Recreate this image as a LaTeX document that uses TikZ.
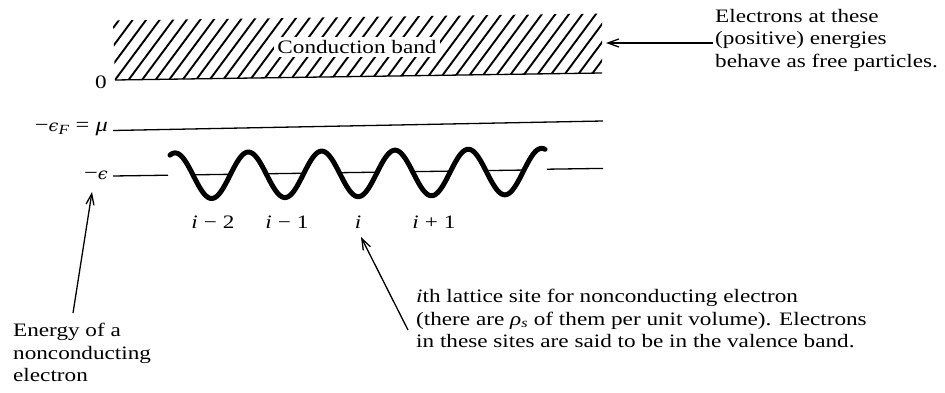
\documentclass[tikz,border=0pt]{standalone}
\usepackage{fontspec}
\setmainfont[FakeStretch=1.22]{Liberation Serif}
\newfontfamily\epsfont[FakeStretch=1.1]{DejaVu Serif}
\usetikzlibrary{arrows.meta}
\tikzset{
  lbl/.style={font=\fontsize{19}{22}\selectfont, inner sep=0pt},
  mlbl/.style={font=\fontsize{20}{22}\selectfont, inner sep=0pt},
  txt/.style={font=\fontsize{19}{22.5}\selectfont, inner sep=0pt, align=left},
  thinline/.style={line width=1.3pt},
  hatchline/.style={line width=1.9pt},
  wavestyle/.style={line width=5pt, line cap=round},
  arr/.style={line width=1.3pt, -{Straight Barb[length=11pt,width=8pt,line width=1.3pt]}},
}
\newcommand{\vi}{\textit{i}}
\newcommand{\veps}{{\epsfont\fontsize{16}{20}\selectfont\itshape ϵ}}
\newcommand{\bsp}{\hspace{6pt}}
\begin{document}
\begin{tikzpicture}[x=1pt,y=-1pt]
\useasboundingbox (0,0) rectangle (945,393);
\fill[white] (0,0) rectangle (945,393);

% conduction band hatch
\begin{scope}
  \clip (113,20.5) -- (602,13.5) -- (602,73) -- (115,80) -- cycle;
  \foreach \k in {-5,...,40} {
    \draw[hatchline] ({100+13.5*\k},82) -- ++(52,-70);
  }
\end{scope}
\draw[thinline] (115,80) -- (602,73);
\node[lbl, fill=white, inner sep=3pt] (cb) at (357,47) {Conduction band};

% level labels
\node[lbl] (zero) at (101,82) {0};
\node[mlbl, anchor=east] (ef) at (108,129) {−\veps\textsubscript{\textit{F}} = \textit{μ}};
\node[mlbl, anchor=east] (eps) at (108,175) {−\veps};

% Fermi level line
\draw[thinline] (113,130.5) -- (603,121);

% -epsilon line pieces
\draw[thinline] (113,176) -- (168,175.2);
\draw[thinline] (547,169.2) -- (603,168.4);
\begin{scope}
  \clip plot[domain=170:545, samples=300, smooth] (\x, {176 - 0.0125*(\x-170) + 23*cos(4.9113*(\x-211.7))}) -- (545,100) -- (170,100) -- cycle;
  \draw[thinline] (113,176) -- (603,168.9);
\end{scope}

% wave
\draw[wavestyle] plot[domain=170:545, samples=300, smooth] (\x, {176 - 0.0125*(\x-170) + 23*cos(4.9113*(\x-211.7))});

% site labels
\node[lbl] (s1) at (213,222) {\vi\bsp−\bsp2};
\node[lbl] (s2) at (287,222) {\vi\bsp−\bsp1};
\node[lbl] (s3) at (358,222) {\vi};
\node[lbl] (s4) at (434,222) {\vi\bsp+\bsp1};

% texts
\node[txt, anchor=north west] (etext) at (715,9) {Electrons at these\\(positive) energies\\behave as free particles.};
\node[txt, anchor=north west] (entext) at (13,323) {Energy of a\\nonconducting\\electron};
\node[txt, anchor=north west] (lattext) at (416,289) {\vi th lattice site for nonconducting electron\\(there are \textit{ρ}\textsubscript{\textit{s}} of them per unit volume). Electrons\\in these sites are said to be in the valence band.};

% arrows
\coordinate (bandtip) at (606,43);
\coordinate (entail) at (73,313);
\coordinate (entip) at (92,192);
\coordinate (lattail) at (408,330);
\coordinate (lattip) at (361,237);
\draw[arr] (etext.west |- bandtip) ++(-2,0) -- (bandtip);
\draw[arr] (entail) -- (entip);
\draw[arr] (lattail) -- (lattip);
\end{tikzpicture}
\end{document}
